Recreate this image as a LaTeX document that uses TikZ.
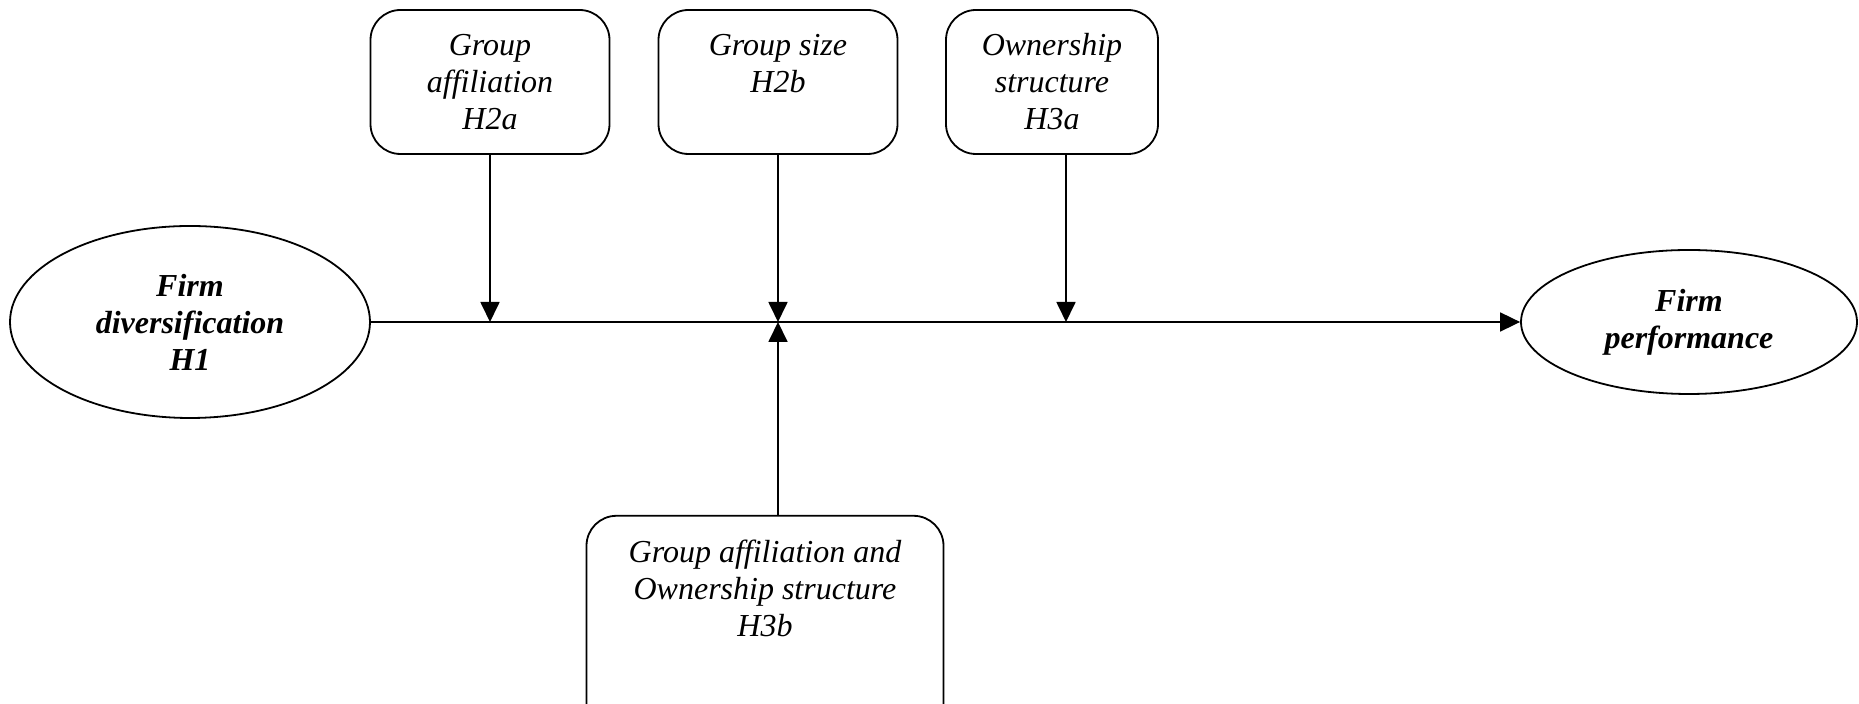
\documentclass[tikz,border=0pt]{standalone}
\usepackage{fontspec}
\setmainfont{Liberation Serif}
\usetikzlibrary{positioning, arrows.meta, shapes.geometric}

\begin{document}
\begin{tikzpicture}
    [
        node distance=120pt and 150pt, on grid, line width=0.9pt,
        main_node/.style={ellipse, draw=black, inner sep=0pt, align=center, font=\fontsize{16}{18.5}\selectfont\bfseries\itshape},
        mod_box/.style={rectangle, rounded corners=15pt, draw=black, minimum height=72pt, align=center, font=\fontsize{16}{18.5}\selectfont\itshape},
        low_box/.style={mod_box, anchor=north, minimum height=0pt, minimum width=178.5pt, inner ysep=12pt, text depth=70pt},
        arr/.style={-{Triangle[length=10pt, width=9.5pt]}},
    ]
        \useasboundingbox (-95pt,-191pt) rectangle (834.5pt,161pt) ;
        \node[main_node, minimum width=180pt, minimum height=96pt] (fd) {Firm\\diversification\\H1} ;
        \node[main_node, minimum width=168pt, minimum height=72pt] (fp) [right = 749.5pt of fd] {Firm\\performance} ;
        \node[mod_box, minimum width=119.5pt] (ga) [above right = of fd] {Group\\affiliation\\H2a} ;
        \node[mod_box, minimum width=119.5pt] (gs) [right = 144pt of ga] {Group size\\H2b\\\mbox{}} ;
        \node[mod_box, minimum width=106pt] (os) [right = 137pt of gs] {Ownership\\structure\\H3a} ;
        \node[low_box] (gos) at ([xshift=-6.5pt, yshift=-180pt]gs.south) {Group affiliation and\\Ownership structure\\H3b} ;
        \draw[arr] (fd) -- (fp) ;
        \draw[arr] (ga) -- (ga |- fd) ;
        \draw[arr] (gs) -- (gs |- fd) ;
        \draw[arr] ([xshift=7pt]os.south) -- ([xshift=7pt]os.south |- fd) ;
        \draw[arr] (gs |- gos.north) -- (gs |- fd) ;
    \end{tikzpicture}
\end{document}
